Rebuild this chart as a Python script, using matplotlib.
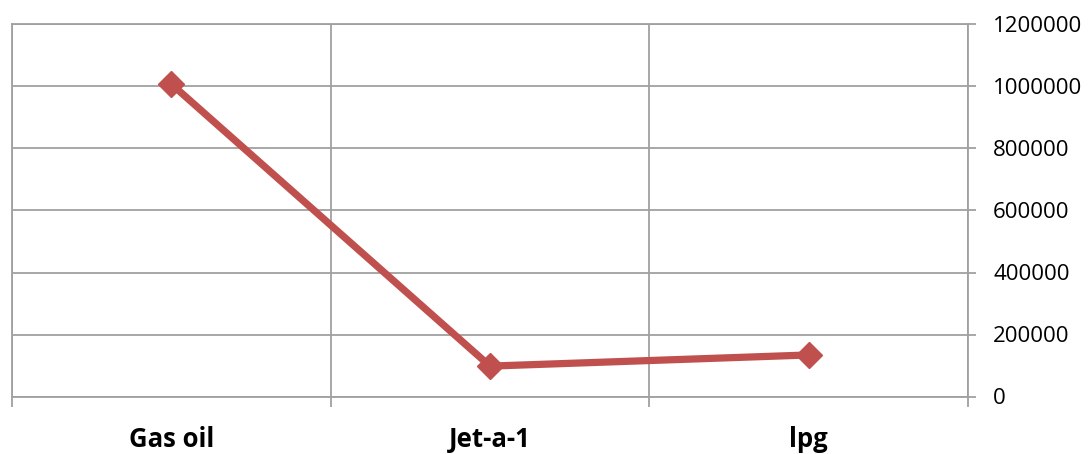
import matplotlib.pyplot as plt
from matplotlib.ticker import FixedLocator, NullFormatter

categories = ["Gas oil", "Jet-a-1", "lpg"]
values = [1008000, 98000, 134000]
yticks = [0, 200000, 400000, 600000, 800000, 1000000, 1200000]

fig = plt.figure(figsize=(10.89, 4.54), dpi=100)
ax = fig.add_axes([12/1089, 1 - 396.5/454, (968-12)/1089, (396.5-24.5)/454])

grid_c = "#A0A0A0"
x = list(range(len(categories)))
ax.plot(x, values, color="#C0504D", lw=5.2, marker="D", ms=13, zorder=3, solid_capstyle="round")

ax.set_xlim(-0.5, len(categories) - 0.5)
ax.set_ylim(0, 1200000)
ax.set_yticks(yticks)
ax.set_yticklabels([str(v) for v in yticks], fontsize=16, family="Open Sans")
ax.yaxis.tick_right()
ax.tick_params(axis="y", which="major", length=6, width=1.3, color=grid_c, pad=12)

ax.set_xticks(x)
ax.set_xticklabels(categories, fontsize=18.5, fontweight="bold", family="Open Sans")
ax.tick_params(axis="x", which="major", length=0, pad=21)
ax.xaxis.set_minor_locator(FixedLocator([i - 0.5 for i in range(len(categories) + 1)]))
ax.xaxis.set_minor_formatter(NullFormatter())
ax.tick_params(axis="x", which="minor", length=7, width=1.3, color=grid_c)

ax.grid(axis="y", which="major", color=grid_c, lw=1.3)
ax.grid(axis="x", which="minor", color=grid_c, lw=1.3)
for s in ax.spines.values():
    s.set_color(grid_c)
    s.set_linewidth(1.3)

fig.savefig("out.png", dpi=100)
